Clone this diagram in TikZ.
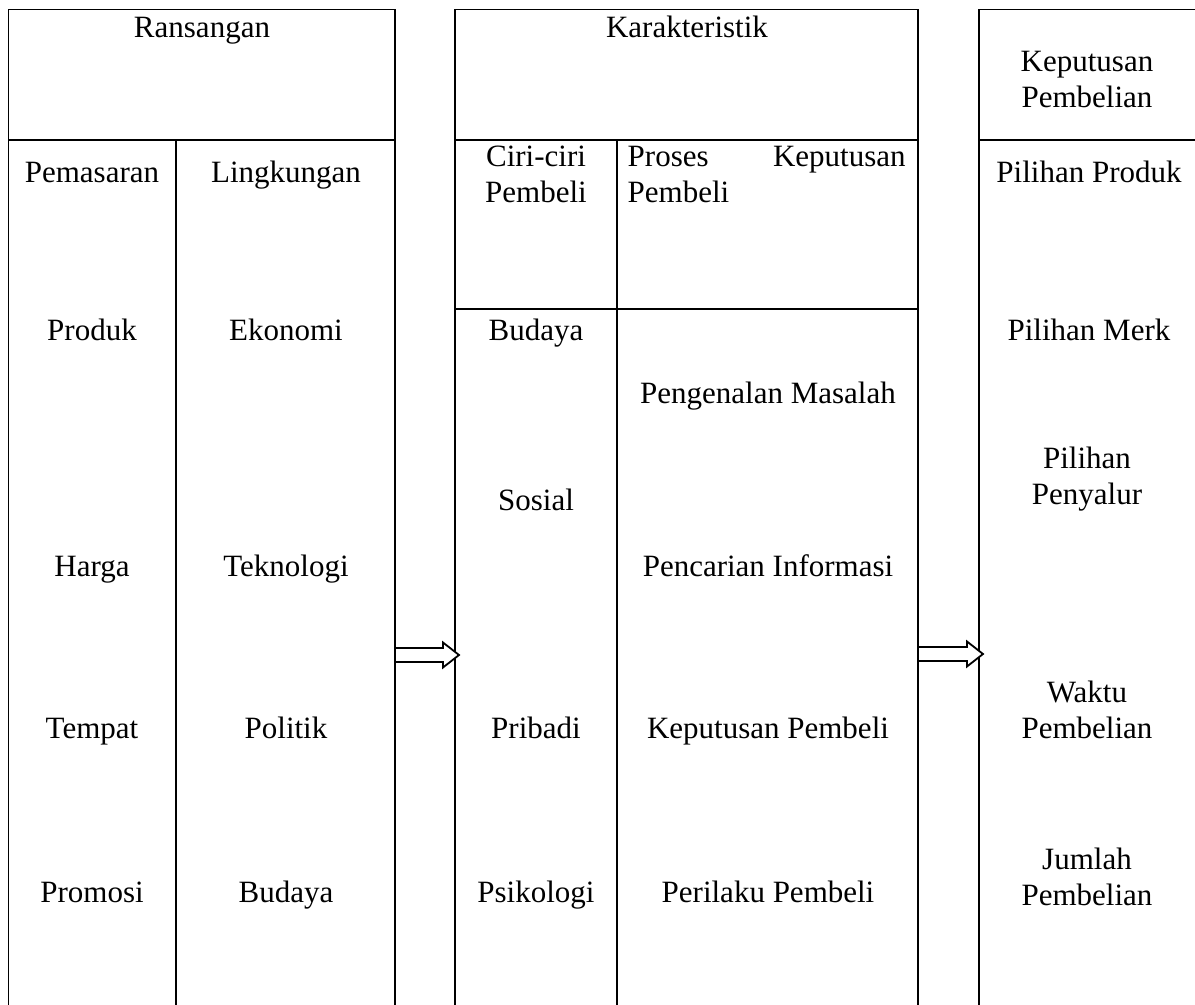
\documentclass[tikz,border=0pt]{standalone}
\usepackage{fontspec}
\setmainfont{Liberation Serif}
\usetikzlibrary{calc}

\begin{document}
\begin{tikzpicture}[x=0.5pt,y=-0.5pt,line width=0.7pt,
  every node/.style={inner sep=0pt,font=\fontsize{15.5}{18}\selectfont},
  lbl/.style={text height=0.9em,text depth=0.24em,yshift=-2pt},
  two/.style={align=center},
  barrow/.style={line width=0.9pt,fill=white}]

  \useasboundingbox (0,0) rectangle (1195,1005);

  % column heads
  \node[lbl] (r) at (202,27) {Ransangan};
  \node[lbl] (k) at (687,27) {Karakteristik};
  \node[two] (kp) at (1087,80) {Keputusan\\Pembelian};

  % stimuli
  \node[lbl] (pm) at (92,172) {Pemasaran};
  \node[lbl] (lk) at (286,172) {Lingkungan};
  \node[lbl] (p1) at (92,330) {Produk};
  \node[lbl] (l1) at (286,330) {Ekonomi};
  \node[lbl] (p2) at (92,566) {Harga};
  \node[lbl] (l2) at (286,566) {Teknologi};
  \node[lbl] (p3) at (92,728) {Tempat};
  \node[lbl] (l3) at (286,728) {Politik};
  \node[lbl] (p4) at (92,892) {Promosi};
  \node[lbl] (l4) at (286,892) {Budaya};

  % buyer
  \node[two] (cb) at (536,174) {Ciri-ciri\\Pembeli};
  \node[align=left,anchor=west] (pk) at (627,175)
    {\makebox[139pt][s]{Proses Keputusan}\\Pembeli};
  \node[lbl] (c1) at (536,330) {Budaya};
  \node[lbl] (c2) at (536,500) {Sosial};
  \node[lbl] (c3) at (536,728) {Pribadi};
  \node[lbl] (c4) at (536,892) {Psikologi};
  \node[lbl] (q1) at (768,393) {Pengenalan Masalah};
  \node[lbl] (q2) at (768,566) {Pencarian Informasi};
  \node[lbl] (q3) at (768,728) {Keputusan Pembeli};
  \node[lbl] (q4) at (768,892) {Perilaku Pembeli};

  % decisions
  \node[lbl] (d1) at (1089,172) {Pilihan Produk};
  \node[lbl] (d2) at (1089,330) {Pilihan Merk};
  \node[two] (d3) at (1087,479) {Pilihan\\Penyalur};
  \node[two] (d4) at (1087,710) {Waktu\\Pembelian};
  \node[two] (d5) at (1087,877) {Jumlah\\Pembelian};

  % boxes
  \draw (8.5,1005) -- (8.5,9.5) -- (395,9.5) -- (395,1005);
  \draw (8.5,140) -- (395,140) (176,140) -- (176,1005);
  \draw (455,1005) -- (455,9.5) -- (918,9.5) -- (918,1005);
  \draw (455,140) -- (918,140) (455,309) -- (918,309) (617,140) -- (617,1005);
  \draw (979,1005) -- (979,9.5) -- (1195,9.5) (979,140) -- (1195,140);

  % arrows
  \coordinate (a1) at (395,655);
  \coordinate (b1) at (459,655);
  \coordinate (a2) at (918,654);
  \coordinate (b2) at (983,654);
  \draw[barrow] ($(a1)+(0,-7)$) -- ($(b1)+(-16,-7)$) -- ($(b1)+(-16,-12.5)$) -- (b1)
    -- ($(b1)+(-16,12.5)$) -- ($(b1)+(-16,7)$) -- ($(a1)+(0,7)$) -- cycle;
  \draw[barrow] ($(a2)+(0,-7)$) -- ($(b2)+(-16,-7)$) -- ($(b2)+(-16,-12.5)$) -- (b2)
    -- ($(b2)+(-16,12.5)$) -- ($(b2)+(-16,7)$) -- ($(a2)+(0,7)$) -- cycle;
\end{tikzpicture}
\end{document}
